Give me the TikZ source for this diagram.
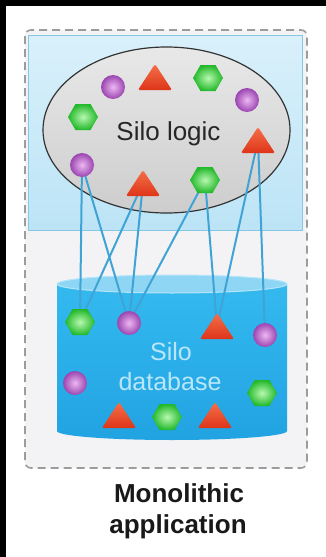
\documentclass[tikz,border=0pt]{standalone}
\usepackage{fontspec}
\setmainfont{Liberation Sans}
\definecolor{boxfill}{HTML}{F3F3F5}
\definecolor{boxedge}{HTML}{9C9C9C}
\definecolor{rectTop}{HTML}{D9F0FB}
\definecolor{rectBot}{HTML}{BCE4F6}
\definecolor{rectEdge}{HTML}{86C8E4}
\definecolor{ellTop}{HTML}{E8E8E8}
\definecolor{ellBot}{HTML}{CDCDCD}
\definecolor{cylTop}{HTML}{34B9EF}
\definecolor{cylBot}{HTML}{21A3E2}
\definecolor{cylLid}{HTML}{8FD6F4}
\definecolor{cylRim}{HTML}{B5E5F8}
\definecolor{wire}{HTML}{3FA4D5}
\definecolor{purpIn}{HTML}{EDB8F2}
\definecolor{purpOut}{HTML}{9A45B0}
\definecolor{greenIn}{HTML}{B8F8B0}
\definecolor{greenOut}{HTML}{22B82A}
\definecolor{triTop}{HTML}{F4704A}
\definecolor{triBot}{HTML}{DE3519}
\definecolor{dbtext}{HTML}{B9E7F9}
\newcommand\myball[1]{\shade[inner color=purpIn,outer color=purpOut] (#1) circle[radius=12];}
\newcommand\myhex[1]{\shade[inner color=greenIn,outer color=greenOut]
  ([shift={(15,0)}]#1) -- ([shift={(7.5,13)}]#1) -- ([shift={(-7.5,13)}]#1) --
  ([shift={(-15,0)}]#1) -- ([shift={(-7.5,-13)}]#1) -- ([shift={(7.5,-13)}]#1) -- cycle;}
\newcommand\mytri[1]{\shade[top color=triTop,bottom color=triBot,rounded corners=1.5pt]
  ([shift={(-17,13)}]#1) -- ([shift={(0,-13)}]#1) -- ([shift={(17,13)}]#1) -- cycle;}
\tikzset{
  wireline/.style={draw=wire,line width=2pt},
  dbtxt/.style={text=dbtext,font=\fontsize{25}{30}\selectfont,anchor=base,inner sep=0},
  captxt/.style={text=black!90,font=\fontsize{26}{31}\selectfont\bfseries,anchor=base,inner sep=0}
}
\begin{document}
\begin{tikzpicture}[x=1pt,y=-1pt]
\useasboundingbox (0,0) rectangle (326,557);
\fill[white] (0,0) rectangle (326,557);
\fill[black] (0,0) rectangle (326,6);
\fill[black] (0,0) rectangle (6,557);
% outer dashed box
\draw[fill=boxfill,draw=boxedge,line width=1.6pt,dash pattern=on 8pt off 5pt,rounded corners=6pt]
  (25,30) rectangle (307,468);
% upper rectangle
\shade[top color=rectTop,bottom color=rectBot] (28,35) rectangle (302,230);
\draw[rectEdge,line width=0.8pt] (28,35) rectangle (302,230);
% ellipse
\shade[top color=ellTop,bottom color=ellBot] (166.5,130) ellipse[x radius=123.5,y radius=83];
\draw[black!80,line width=1.2pt] (166.5,130) ellipse[x radius=123.5,y radius=83];
% cylinder
\shade[top color=cylTop,bottom color=cylBot]
  (57,284) -- (57,431) arc[start angle=180,end angle=0,x radius=115,y radius=9]
  -- (287,284) arc[start angle=0,end angle=180,x radius=115,y radius=9] -- cycle;
\draw[cylRim,line width=1pt,fill=cylLid] (172,284) ellipse[x radius=115,y radius=9];
% coordinates of shapes
\coordinate (lp1) at (113,87);
\coordinate (lt1) at (155,77);
\coordinate (lh1) at (208,78);
\coordinate (lp2) at (247,100);
\coordinate (lh2) at (83,117);
\coordinate (lt2) at (258,140);
\coordinate (lp3) at (82,165);
\coordinate (lt3) at (143,183);
\coordinate (lh3) at (205,180);
\coordinate (dh1) at (80,322);
\coordinate (dp1) at (129,323);
\coordinate (dt1) at (217,326);
\coordinate (dp2) at (265,335);
\coordinate (dp3) at (75,383);
\coordinate (dh2) at (262,393);
\coordinate (dt2) at (119,415);
\coordinate (dh3) at (167,417);
\coordinate (dt3) at (215,415);
% connectors
\draw[wireline] (lp3) -- (dh1);
\draw[wireline] (lp3) -- (dp1);
\draw[wireline] (lt3) -- (dh1);
\draw[wireline] (lt3) -- (dp1);
\draw[wireline] (lh3) -- (dp1);
\draw[wireline] (lh3) -- (dt1);
\draw[wireline] (lt2) -- (dt1);
\draw[wireline] (lt2) -- (dp2);
% shapes
\myball{lp1} \myball{lp2} \myball{lp3}
\myball{dp1} \myball{dp2} \myball{dp3}
\myhex{lh1} \myhex{lh2} \myhex{lh3}
\myhex{dh1} \myhex{dh2} \myhex{dh3}
\mytri{lt1} \mytri{lt2} \mytri{lt3}
\mytri{dt1} \mytri{dt2} \mytri{dt3}
% texts
\node[text=black!85,font=\fontsize{26}{31}\selectfont,anchor=base,inner sep=0] (logic) at (168.5,140) {Silo logic};
\node[dbtxt] (db1) at (171,360) {Silo};
\node[dbtxt] (db2) at (170,390) {database};
\node[captxt] (cap1) at (179,502) {Monolithic};
\node[captxt] (cap2) at (178,533) {application};
\end{tikzpicture}
\end{document}
